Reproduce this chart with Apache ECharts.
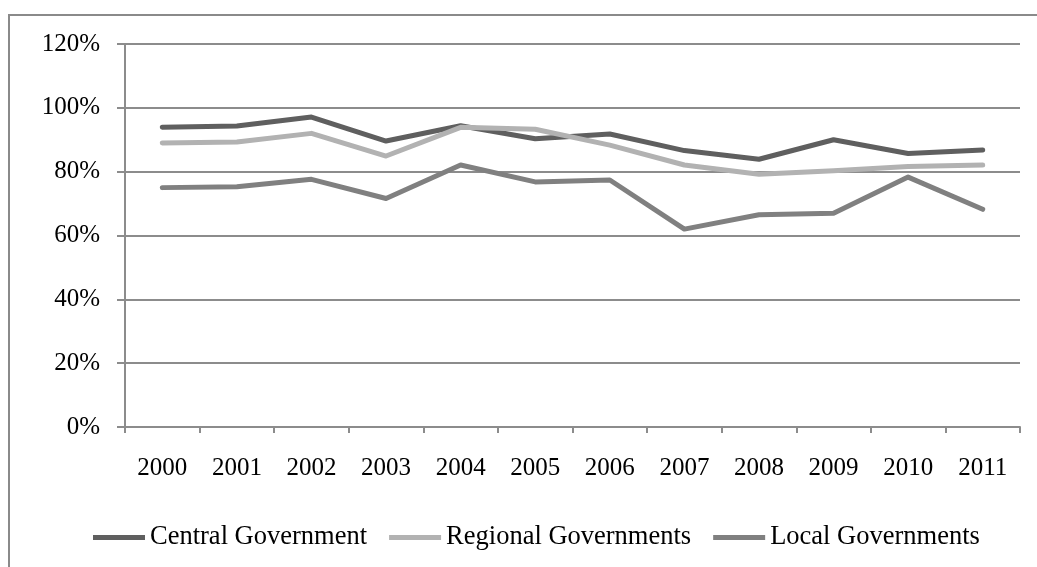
<!DOCTYPE html>
<html>
<head>
<meta charset="utf-8">
<script src="https://cdn.jsdelivr.net/npm/echarts@6/dist/echarts.min.js"></script>
<style>
  html, body { margin: 0; padding: 0; background: #ffffff; }
  #chart { width: 1037px; height: 567px; }
</style>
</head>
<body>
<div id="chart"></div>
<script>
// Budget execution rates by level of government, 2000-2011 (share, %)
const years = ['2000', '2001', '2002', '2003', '2004', '2005', '2006', '2007', '2008', '2009', '2010', '2011'];
const centralGov = [93.9, 94.3, 97.1, 89.6, 94.4, 90.3, 91.8, 86.6, 83.9, 90.0, 85.7, 86.8];
const regionalGov = [89.0, 89.3, 92.0, 84.9, 93.9, 93.3, 88.3, 82.1, 79.2, 80.3, 81.6, 82.1];
const localGov = [75.0, 75.3, 77.6, 71.6, 82.1, 76.8, 77.4, 62.0, 66.5, 67.0, 78.3, 68.2];
const seriesNames = ['Central Government', 'Regional Governments', 'Local Governments'];
const seriesColors = ['#5f5f5f', '#b2b2b2', '#808080'];

const FONT = '"Liberation Serif", "Times New Roman", serif';
const AXIS_GRAY = '#8c8c8c';

const chart = echarts.init(document.getElementById('chart'), null, { renderer: 'canvas' });

function lineSeries(name, data, color) {
  return {
    name: name,
    type: 'line',
    data: data,
    symbol: 'none',
    smooth: false,
    lineStyle: { color: color, width: 5, cap: 'round', join: 'round' },
    itemStyle: { color: color },
    emphasis: { disabled: true }
  };
}

chart.setOption({
  animation: false,
  backgroundColor: '#ffffff',
  graphic: [{
    type: 'rect',
    shape: { x: 9, y: 15, width: 1100, height: 600 },
    style: { fill: 'none', stroke: '#8a8a8a', lineWidth: 2 },
    silent: true
  }],
  grid: { left: 125, right: 17, top: 44, bottom: 140, containLabel: false },
  legend: {
    data: seriesNames,
    left: 88,
    top: 519,
    itemWidth: 52,
    itemHeight: 5,
    itemGap: 22,
    icon: 'rect',
    textStyle: { fontFamily: FONT, fontSize: 26.5, color: '#000000' }
  },
  xAxis: {
    type: 'category',
    data: years,
    boundaryGap: true,
    axisLine: { lineStyle: { color: AXIS_GRAY, width: 2 } },
    axisTick: { show: true, length: 6, inside: false, lineStyle: { color: AXIS_GRAY, width: 2 } },
    axisLabel: { fontFamily: FONT, fontSize: 25, color: '#000000', margin: 29 },
    splitLine: { show: false }
  },
  yAxis: {
    type: 'value',
    min: 0,
    max: 120,
    interval: 20,
    axisLine: { show: true, lineStyle: { color: AXIS_GRAY, width: 2 } },
    axisTick: { show: true, length: 8, lineStyle: { color: AXIS_GRAY, width: 2 } },
    axisLabel: {
      fontFamily: FONT, fontSize: 25, color: '#000000', margin: 25,
      formatter: function (v) { return v + '%'; }
    },
    splitLine: { show: true, lineStyle: { color: AXIS_GRAY, width: 2 } }
  },
  series: [
    lineSeries(seriesNames[0], centralGov, seriesColors[0]),
    lineSeries(seriesNames[1], regionalGov, seriesColors[1]),
    lineSeries(seriesNames[2], localGov, seriesColors[2])
  ]
});
</script>
</body>
</html>
